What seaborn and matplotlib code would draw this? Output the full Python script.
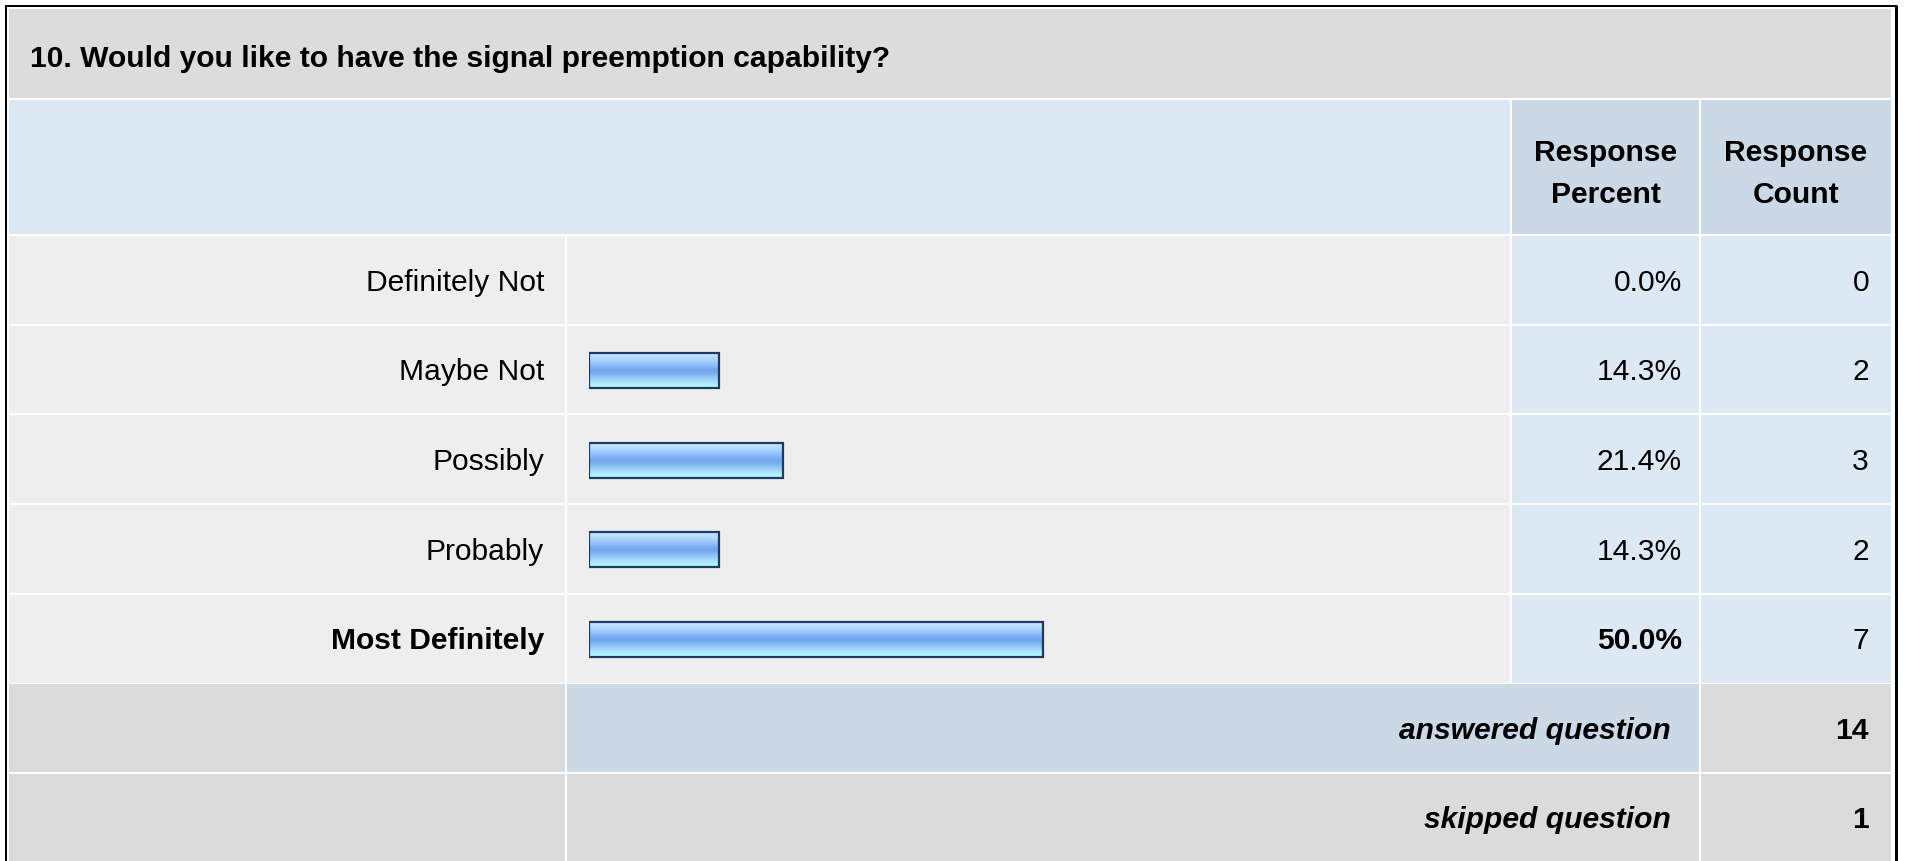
import numpy as np
import pandas as pd
import matplotlib
matplotlib.use("Agg")
import matplotlib.pyplot as plt
from matplotlib.patches import Rectangle
from matplotlib.colors import LinearSegmentedColormap
import seaborn as sns

# ---------------- data ----------------
title = "10. Would you like to have the signal preemption capability?"
categories = ["Definitely Not", "Maybe Not", "Possibly", "Probably", "Most Definitely"]
percents = [0.0, 14.3, 21.4, 14.3, 50.0]
counts = [0, 2, 3, 2, 7]
header_percent = ["Response", "Percent"]
header_count = ["Response", "Count"]
answered_label = "answered question"
answered_count = 14
skipped_label = "skipped question"
skipped_count = 1

# ---------------- style ----------------
sns.set_style("white")
plt.rcParams["font.family"] = ["Liberation Sans", "DejaVu Sans"]
plt.rcParams["text.color"] = "black"
FS = 21.6
TC = "#000000"

W, H = 1907, 861
fig = plt.figure(figsize=(W / 100, H / 100), dpi=100)
fig.patch.set_facecolor("white")

ax = fig.add_axes([0, 0, 1, 1])
ax.set_xlim(0, W)
ax.set_ylim(H, 0)
ax.axis("off")

GRAY_T = "#dcdcdc"
GRAY_D = "#eeeeee"
BLUE_L = "#dde8f5"
BLUE_D = "#cbd8e6"
GRAY_F = "#dbdbdb"

# column edges
c0 = (9, 565)
c1 = (567, 1510)
c2 = (1512, 1699)
c3 = (1701, 1891)

def cell(x0, x1, y0, y1, color):
    ax.add_patch(Rectangle((x0, y0), x1 - x0, y1 - y0, facecolor=color,
                           edgecolor="none", zorder=1))

# title row
cell(9, 1891, 9, 98, GRAY_T)
# header row
cell(c0[0], c1[1], 100, 234, BLUE_L)
cell(c2[0], c2[1], 100, 234, BLUE_D)
cell(c3[0], c3[1], 100, 234, BLUE_D)

row_h = 89.7
row_top = 236
centers = []
for i in range(len(categories)):
    y0 = row_top + i * row_h
    y1 = y0 + row_h - 2
    centers.append((y0 + y1) / 2)
    cell(c0[0], c0[1], y0, y1, GRAY_D)
    cell(c1[0], c1[1], y0, y1, GRAY_D)
    cell(c2[0], c2[1], y0, y1, BLUE_L)
    cell(c3[0], c3[1], y0, y1, BLUE_L)

# answered / skipped rows
ya0 = 684
ya1 = 772
ys0 = 774
ys1 = 861
cell(c0[0], c0[1], ya0, ya1, GRAY_F)
cell(c1[0], c2[1], ya0, ya1, BLUE_D)
cell(c3[0], c3[1], ya0, ya1, GRAY_F)
cell(c0[0], c0[1], ys0, ys1, GRAY_F)
cell(c1[0], c2[1], ys0, ys1, GRAY_F)
cell(c3[0], c3[1], ys0, ys1, GRAY_F)

# outer border
ax.plot([6, 6], [5, H], color="black", lw=1.44, solid_capstyle="butt", zorder=5)
ax.plot([5, 1897], [6, 6], color="black", lw=1.44, solid_capstyle="butt", zorder=5)
ax.plot([1895.5, 1895.5], [5, H], color="black", lw=2.16, solid_capstyle="butt", zorder=5)

# ---------------- texts ----------------
BL = 10.7  # baseline offset from centre
ax.text(30, 56 + BL, title, fontsize=FS, fontweight="bold", ha="left", va="baseline",
        color=TC, zorder=6)

hx2 = (c2[0] + c2[1]) / 2
hx3 = (c3[0] + c3[1]) / 2
for yy, a, b in [(150, header_percent[0], header_count[0]), (192, header_percent[1], header_count[1])]:
    ax.text(hx2, yy + BL, a, fontsize=FS, fontweight="bold", ha="center", va="baseline", color=TC, zorder=6)
    ax.text(hx3, yy + BL, b, fontsize=FS, fontweight="bold", ha="center", va="baseline", color=TC, zorder=6)

imax = int(np.argmax(percents))
for i, (cat, p, n) in enumerate(zip(categories, percents, counts)):
    yc = centers[i]
    fw = "bold" if i == imax else "normal"
    ax.text(544, yc + BL, cat, fontsize=FS, fontweight=fw, ha="right", va="baseline", color=TC, zorder=6)
    ax.text(1682, yc + BL, f"{p:.1f}%", fontsize=FS, fontweight=fw, ha="right", va="baseline", color=TC, zorder=6)
    ax.text(1869, yc + BL, f"{n}", fontsize=FS, ha="right", va="baseline", color=TC, zorder=6)

yca = (ya0 + ya1) / 2
ycs = (ys0 + ys1) / 2
ax.text(1671, yca + BL, answered_label, fontsize=FS, fontweight="bold", style="italic",
        ha="right", va="baseline", color=TC, zorder=6)
ax.text(1869, yca + BL, str(answered_count), fontsize=FS, fontweight="bold", ha="right",
        va="baseline", color=TC, zorder=6)
ax.text(1671, ycs + BL, skipped_label, fontsize=FS, fontweight="bold", style="italic",
        ha="right", va="baseline", color=TC, zorder=6)
ax.text(1869, ycs + BL, str(skipped_count), fontsize=FS, fontweight="bold", ha="right",
        va="baseline", color=TC, zorder=6)

# ---------------- bars (seaborn) ----------------
bx0, bx1 = 589, 1497
by0 = row_top
by1 = row_top + row_h * len(categories)
axb = fig.add_axes([bx0 / W, 1 - by1 / H, (bx1 - bx0) / W, (by1 - by0) / H])
axb.patch.set_alpha(0)

df = pd.DataFrame({"category": categories, "percent": percents})
sns.barplot(data=df, x="percent", y="category", orient="h", order=categories,
            width=0.39, color="#7fb2f4", edgecolor="#1d3a63", linewidth=1.6,
            ax=axb, zorder=3)
axb.set_xlim(0, 100)
axb.set_ylim(len(categories) - 0.5, -0.5)
axb.axis("off")

grad_colors = ["#cde8ff", "#bcdeff", "#a9d2ff", "#96c4fb", "#80b3f4", "#70a5ee",
               "#7db3f2", "#92c6f7", "#a5dbfa", "#b0eefd", "#b6fcff"]
cmap = LinearSegmentedColormap.from_list("barg", grad_colors)
grad = np.linspace(0, 1, 64).reshape(-1, 1)
for patch in list(axb.patches):
    w = patch.get_width()
    if w <= 0:
        patch.set_visible(False)
        continue
    x0 = patch.get_x()
    y0 = patch.get_y()
    h = patch.get_height()
    patch.set_facecolor("none")
    patch.set_zorder(4)
    im = axb.imshow(grad, cmap=cmap, aspect="auto", origin="upper",
                    extent=(x0, x0 + w, y0 + h, y0), zorder=3, interpolation="bilinear")
    im.set_clip_path(patch)
axb.set_xlim(0, 100)
axb.set_ylim(len(categories) - 0.5, -0.5)

fig.savefig("out.png", dpi=100)
